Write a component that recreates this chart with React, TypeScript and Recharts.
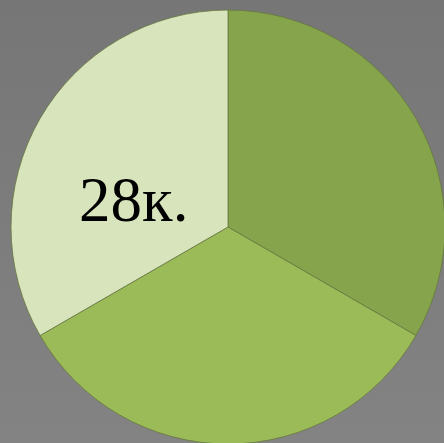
import React from 'react';
import { PieChart, Pie, Cell } from 'recharts';

const sliceNames = ['A', 'B', 'C'];
const sliceValues = [28, 28, 28];
const sliceColors = ['#86a44b', '#9bbb59', '#d7e4bc'];
const labelTexts = ['', '', '28к.'];

const data = sliceNames.map((name, i) => ({ name, value: sliceValues[i] }));

const RADIAN = Math.PI / 180;

const renderLabel = (props: any) => {
  const { cx, cy, midAngle, outerRadius, index } = props;
  const text = labelTexts[index];
  if (!text) return null;
  const r = outerRadius * 0.507;
  const x = cx + r * Math.cos(-midAngle * RADIAN);
  const y = cy + r * Math.sin(-midAngle * RADIAN);
  return (
    <text
      x={x + 1}
      y={y + 49}
      textAnchor="middle"
      fill="#000"
      fontFamily="Liberation Serif, serif"
      fontSize={63}
    >
      {text}
    </text>
  );
};

export default function App() {
  return (
    <div
      style={{
        position: 'fixed',
        left: 0,
        top: 0,
        width: 444,
        height: 443,
        background: 'linear-gradient(#767676, #838383)',
      }}
    >
      <PieChart width={444} height={443} margin={{ top: 0, right: 0, bottom: 0, left: 0 }}>
        <Pie
          data={data}
          dataKey="value"
          cx={228}
          cy={227}
          outerRadius={217}
          startAngle={90}
          endAngle={-270}
          stroke="#66773f"
          strokeWidth={0.8}
          label={renderLabel}
          labelLine={false}
          isAnimationActive={false}
        >
          {data.map((d, i) => (
            <Cell key={d.name} fill={sliceColors[i]} />
          ))}
        </Pie>
      </PieChart>
    </div>
  );
}
